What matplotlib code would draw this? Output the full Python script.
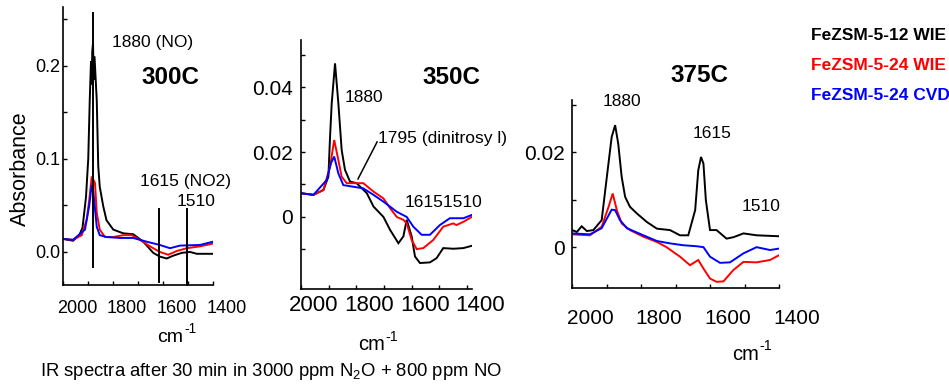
import matplotlib.pyplot as plt
from matplotlib.transforms import ScaledTranslation

# --- 1. Data (wavenumber in cm-1, absorbance) ---
P1_WN_BLACK = [2000, 1960, 1935, 1922, 1908, 1899, 1893, 1888, 1885, 1883, 1880, 1877, 1874, 1865,
               1859, 1853, 1839, 1826, 1799, 1759, 1719, 1679, 1639, 1613, 1585, 1559, 1525, 1492,
               1465, 1400]
P1_ABS_BLACK = [0.014, 0.012, 0.018, 0.026, 0.059, 0.100, 0.163, 0.205, 0.180, 0.215, 0.224, 0.185,
                0.210, 0.163, 0.092, 0.070, 0.049, 0.034, 0.024, 0.020, 0.019, 0.011, -0.001, -0.005,
                -0.007, -0.004, -0.001, 0.000, -0.002, -0.002]
P1_WN_RED = [2000, 1960, 1925, 1905, 1895, 1885, 1872, 1865, 1853, 1832, 1799, 1759, 1725, 1692,
             1652, 1613, 1579, 1545, 1505, 1452, 1400]
P1_ABS_RED = [0.014, 0.013, 0.018, 0.035, 0.056, 0.081, 0.074, 0.042, 0.024, 0.016, 0.016, 0.018,
              0.018, 0.013, 0.006, 0.000, -0.003, 0.001, 0.004, 0.006, 0.009]
P1_WN_BLUE = [2000, 1960, 1912, 1895, 1885, 1879, 1865, 1853, 1826, 1772, 1719, 1665, 1613, 1572,
              1532, 1452, 1400]
P1_ABS_BLUE = [0.014, 0.013, 0.024, 0.050, 0.072, 0.065, 0.027, 0.018, 0.016, 0.015, 0.015, 0.011,
               0.0075, 0.004, 0.0068, 0.0075, 0.011]

P2_WN_BLACK = [2000, 1955, 1919, 1901, 1895, 1889, 1877, 1865, 1853, 1841, 1823, 1799, 1762, 1738,
               1702, 1678, 1648, 1630, 1618, 1600, 1588, 1570, 1534, 1510, 1486, 1450, 1413, 1383]
P2_ABS_BLACK = [0.0073, 0.0068, 0.0083, 0.0124, 0.0247, 0.035, 0.0473, 0.035, 0.0206, 0.0145,
                0.0109, 0.0104, 0.0073, 0.0032, 0.0, -0.004, -0.0081, -0.006, -0.0009, -0.006,
                -0.0122, -0.0142, -0.014, -0.0127, -0.0096, -0.0098, -0.0096, -0.0089]
P2_WN_RED = [2000, 1955, 1919, 1895, 1880, 1865, 1853, 1835, 1799, 1775, 1738, 1702, 1678, 1654,
             1630, 1618, 1600, 1582, 1558, 1522, 1486, 1450, 1438, 1413, 1383]
P2_ABS_RED = [0.0073, 0.0068, 0.0083, 0.0155, 0.0237, 0.0175, 0.0124, 0.0104, 0.0104, 0.0104,
              0.0078, 0.0057, 0.0027, 0.0, -0.0009, -0.002, -0.0071, -0.0099, -0.0096, -0.0071,
              -0.003, -0.002, -0.0025, -0.0015, 0.0]
P2_WN_BLUE = [2000, 1955, 1907, 1892, 1880, 1865, 1847, 1811, 1775, 1738, 1702, 1654, 1618, 1594,
              1564, 1534, 1498, 1462, 1413, 1383]
P2_ABS_BLUE = [0.0073, 0.0068, 0.0114, 0.0165, 0.0186, 0.0134, 0.0098, 0.0093, 0.0088, 0.0068,
               0.0047, 0.0016, 0.0, -0.003, -0.0055, -0.0055, -0.0025, -0.0004, -0.0004, 0.0006]

P3_WN_BLACK = [2000, 1986, 1972, 1957, 1938, 1914, 1899, 1885, 1875, 1866, 1856, 1846, 1832, 1812,
               1783, 1754, 1716, 1687, 1663, 1643, 1634, 1626, 1619, 1612, 1600, 1581, 1552, 1532,
               1503, 1465, 1400]
P3_ABS_BLACK = [0.0036, 0.0032, 0.0044, 0.0034, 0.0036, 0.0057, 0.0148, 0.0232, 0.0257, 0.0218,
                0.0148, 0.0106, 0.0085, 0.0071, 0.0053, 0.0039, 0.0036, 0.0025, 0.0025, 0.0078,
                0.0162, 0.019, 0.0176, 0.0099, 0.0036, 0.0036, 0.0018, 0.0021, 0.0029, 0.0025,
                0.0023]
P3_WN_RED = [2000, 1948, 1914, 1894, 1882, 1870, 1856, 1832, 1793, 1754, 1726, 1687, 1658, 1634,
             1619, 1600, 1581, 1561, 1532, 1503, 1465, 1426, 1400]
P3_ABS_RED = [0.0027, 0.0025, 0.0043, 0.0085, 0.0113, 0.0078, 0.005, 0.0036, 0.0022, 0.0011, 0.0,
              -0.002, -0.0038, -0.0027, -0.0045, -0.0066, -0.0073, -0.0072, -0.0048, -0.0031,
              -0.0032, -0.0027, -0.0017]
P3_WN_BLUE = [2000, 1948, 1914, 1894, 1885, 1875, 1861, 1841, 1793, 1754, 1716, 1677, 1639, 1619,
              1600, 1571, 1542, 1503, 1465, 1426, 1400]
P3_ABS_BLUE = [0.0029, 0.0027, 0.004, 0.0067, 0.0079, 0.0078, 0.0057, 0.004, 0.0025, 0.0013,
               0.0008, 0.0004, 0.0002, 0.0, -0.002, -0.0033, -0.0032, -0.0013, 0.0, -0.0006,
               -0.0003]

# band markers drawn in the 300C panel: (wavenumber, y from, y to)
P1_MARKERS = [(1880, -0.016, 0.257), (1615, -0.032, 0.046), (1505, -0.0355, 0.046)]

SAMPLES = ['FeZSM-5-12 WIE', 'FeZSM-5-24 WIE', 'FeZSM-5-24 CVD']
COLORS = ['black', '#ff0000', '#0000ff']

# --- 2. Figure setup ---
plt.rcParams['font.family'] = ['Liberation Sans', 'DejaVu Sans']
plt.rcParams['mathtext.fontset'] = 'custom'
plt.rcParams['mathtext.rm'] = 'Liberation Sans'
plt.rcParams['mathtext.it'] = 'Liberation Sans:italic'

W, H = 949, 385
fig = plt.figure(figsize=(W / 100, H / 100), dpi=100)


def px_axes(left, top, right, bottom):
    """Axes placed by pixel edges of the reference."""
    return fig.add_axes([left / W, 1 - bottom / H, (right - left) / W, (bottom - top) / H])


def ftext(x, y, s, **kw):
    """Figure text at a pixel position (left edge, vertical centre)."""
    kw.setdefault('ha', 'left')
    kw.setdefault('va', 'center')
    fig.text(x / W, 1 - y / H, s, **kw)


def cm_label(x, y, size):
    """'cm' with a plain-hyphen '-1' superscript, like the reference."""
    ftext(x, y, 'cm', fontsize=size)
    cm_width = 1.333 * size * 100 / 72
    ftext(x + cm_width + 1, y - 0.55 * size, '-1', fontsize=size * 0.7)


def style_axes(ax, xlim, ylim, yticks, ylabels, yminor, xsize, ysize, xpad, ypad, xshift):
    ax.set_xlim(*xlim)
    ax.set_ylim(*ylim)
    for side in ['top', 'right']:
        ax.spines[side].set_visible(False)
    for side in ['left', 'bottom']:
        ax.spines[side].set_linewidth(1.2)
    ax.set_xticks([2000, 1800, 1600, 1400])
    ax.set_xticks([1900, 1700, 1500], minor=True)
    ax.set_yticks(yticks)
    ax.set_yticklabels(ylabels)
    ax.set_yticks(yminor, minor=True)
    ax.tick_params(which='both', direction='in', length=3, width=1)
    ax.tick_params(axis='x', labelsize=xsize, pad=xpad)
    ax.tick_params(axis='y', labelsize=ysize, pad=ypad)
    # the reference tick labels sit a little to the right of their ticks
    shift = ScaledTranslation(xshift / 100, 0, fig.dpi_scale_trans)
    for lab in ax.get_xticklabels():
        lab.set_transform(lab.get_transform() + shift)


def plot_set(ax, curves):
    for (wn, ab), color in zip(curves, COLORS):
        ax.plot(wn, ab, color=color, linewidth=1.4, solid_joinstyle='miter')


# --- 3. Panel 300C ---
ax1 = px_axes(63, 7, 213, 285)
plot_set(ax1, [(P1_WN_BLACK, P1_ABS_BLACK), (P1_WN_RED, P1_ABS_RED), (P1_WN_BLUE, P1_ABS_BLUE)])
for wn, y0, y1 in P1_MARKERS:
    ax1.plot([wn, wn], [y0, y1], color='black', linewidth=1.4, clip_on=False)
style_axes(ax1, (2000, 1400), (-0.0355, 0.263), [0.0, 0.1, 0.2], ['0.0', '0.1', '0.2'],
           [0.05, 0.15, 0.25], 13, 13, 11, 2, 14)

# --- 4. Panel 350C ---
ax2 = px_axes(301, 40, 472, 289)
plot_set(ax2, [(P2_WN_BLACK, P2_ABS_BLACK), (P2_WN_RED, P2_ABS_RED), (P2_WN_BLUE, P2_ABS_BLUE)])
ax2.plot([1794, 1725], [0.0117, 0.0231], color='black', linewidth=1.1)
style_axes(ax2, (2000, 1382), (-0.0222, 0.0545), [0, 0.02, 0.04], ['0', '0.02', '0.04'],
           [-0.01, 0.01, 0.03, 0.05], 16, 15, 4, 6, 13)

# --- 5. Panel 375C ---
ax3 = px_axes(572, 100, 779, 288)
plot_set(ax3, [(P3_WN_BLACK, P3_ABS_BLACK), (P3_WN_RED, P3_ABS_RED), (P3_WN_BLUE, P3_ABS_BLUE)])
style_axes(ax3, (2000, 1400), (-0.0086, 0.031), [0, 0.02], ['0', '0.02'],
           [0.01, 0.03], 15, 15, 15, 5, 18)

# --- 6. Labels and annotations ---
ftext(20, 169, 'Absorbance', fontsize=15.5, rotation=90, ha='center')
ftext(112, 42, '1880 (NO)', fontsize=12.5)
ftext(141, 78, '300C', fontsize=17.5, fontweight='bold')
ftext(140, 182, '1615 (NO2)', fontsize=12.5)
ftext(177, 202, '1510', fontsize=12.5)
cm_label(157, 337, 14)

ftext(422, 77, '350C', fontsize=17.5, fontweight='bold')
ftext(345, 98, '1880', fontsize=12.5)
ftext(378, 138, '1795 (dinitrosy l)', fontsize=12.5)
ftext(405, 203, '16151510', fontsize=12.5)
cm_label(358, 345, 14.5)

ftext(670, 75, '375C', fontsize=17.5, fontweight='bold')
ftext(603, 101, '1880', fontsize=12.5)
ftext(693, 133, '1615', fontsize=12.5)
ftext(742, 207, '1510', fontsize=12.5)
cm_label(732, 354, 14.5)

for i, (name, color) in enumerate(zip(SAMPLES, COLORS)):
    ftext(811, 35 + 30 * i, name, fontsize=12.5, fontweight='bold', color=color)

ftext(40, 372, 'IR spectra after 30 min in 3000 ppm N$_2$O + 800 ppm NO', fontsize=13.3)

fig.savefig('out.png', dpi=100)
